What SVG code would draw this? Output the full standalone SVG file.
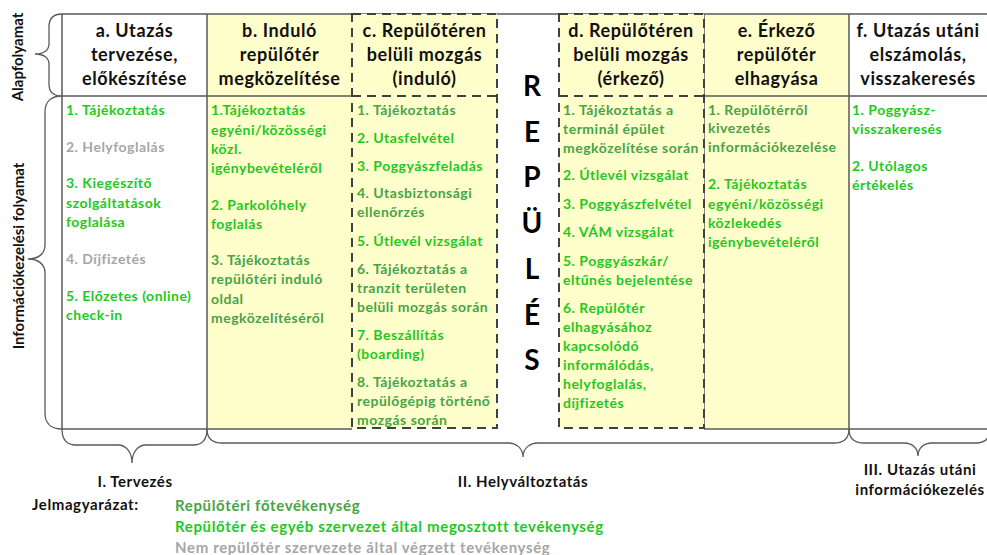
<svg xmlns="http://www.w3.org/2000/svg" width="987" height="555" viewBox="0 0 987 555">
<style>
text{font-family:Lato,"Liberation Sans",sans-serif;font-weight:bold}
.hd{font-size:18px;fill:#111;text-anchor:middle;letter-spacing:0.6px}
.b{font-size:14px;letter-spacing:0.5px}
.frame{fill:none;stroke:#5a5a5a;stroke-width:1.5}
.dash{fill:none;stroke:#404040;stroke-width:2;stroke-dasharray:9 6}
.brace{fill:none;stroke:#5a5a5a;stroke-width:1.3}
.lbl{font-size:15px;fill:#111}
.lg{font-size:15px;letter-spacing:0.65px}
.big{font-size:28px;fill:#000;text-anchor:middle}
.sec{font-size:15px;fill:#111;text-anchor:middle;letter-spacing:0.55px}
.g1{fill:#1ec81e}
.g2{fill:#46a446}
.gr{fill:#a6a6a6}
</style>
<rect width="987" height="555" fill="#fff"/>

<g id="col-a">
<rect x="62" y="14" width="145" height="415" fill="#fff"/>
<text class="hd" x="134.5" y="37">a. Utazás</text>
<text class="hd" x="134.5" y="61">tervezése,</text>
<text class="hd" x="134.5" y="85">előkészítése</text>
<text class="b g1" x="66" y="115">1. Tájékoztatás</text>
<text class="b gr" x="66" y="152">2. Helyfoglalás</text>
<text class="b g1" x="66" y="188">3. Kiegészítő</text>
<text class="b g1" x="66" y="207.5">szolgáltatások</text>
<text class="b g1" x="66" y="227">foglalása</text>
<text class="b gr" x="66" y="264">4. Díjfizetés</text>
<text class="b g1" x="66" y="300.5">5. Előzetes (online)</text>
<text class="b g1" x="66" y="319.5">check-in</text>
</g>

<g id="col-b">
<rect x="207" y="14" width="145" height="415" fill="#ffffcc"/>
<text class="hd" x="279.5" y="37">b. Induló</text>
<text class="hd" x="279.5" y="61">repülőtér</text>
<text class="hd" x="279.5" y="85">megközelítése</text>
<text class="b g1" x="211" y="115">1.Tájékoztatás</text>
<text class="b g1" x="211" y="134.5">egyéni/közösségi</text>
<text class="b g1" x="211" y="154">közl.</text>
<text class="b g1" x="211" y="173">igénybevételéről</text>
<text class="b g1" x="211" y="210">2. Parkolóhely</text>
<text class="b g1" x="211" y="228.5">foglalás</text>
<text class="b g2" x="211" y="265">3. Tájékoztatás</text>
<text class="b g2" x="211" y="284">repülőtéri induló</text>
<text class="b g2" x="211" y="304">oldal</text>
<text class="b g2" x="211" y="323">megközelítéséről</text>
</g>

<g id="col-e">
<rect x="704" y="14" width="145" height="415" fill="#ffffcc"/>
<text class="hd" x="776.5" y="37">e. Érkező</text>
<text class="hd" x="776.5" y="61">repülőtér</text>
<text class="hd" x="776.5" y="85">elhagyása</text>
<text class="b g2" x="708" y="114.5">1. Repülőtérről</text>
<text class="b g2" x="708" y="133">kivezetés</text>
<text class="b g2" x="708" y="152">információkezelése</text>
<text class="b g1" x="708" y="189">2. Tájékoztatás</text>
<text class="b g1" x="708" y="209">egyéni/közösségi</text>
<text class="b g1" x="708" y="228">közlekedés</text>
<text class="b g1" x="708" y="247">igénybevételéről</text>
</g>

<g id="col-f">
<text class="hd" x="918" y="37">f. Utazás utáni</text>
<text class="hd" x="918" y="61">elszámolás,</text>
<text class="hd" x="918" y="85">visszakeresés</text>
<text class="b g1" x="852" y="115">1. Poggyász-</text>
<text class="b g1" x="852" y="133.5">visszakeresés</text>
<text class="b g1" x="852" y="171">2. Utólagos</text>
<text class="b g1" x="852" y="189.5">értékelés</text>
</g>

<g id="frame">
<path class="frame" d="M62,14 H990 M62,96 H352 M704,96 H990 M62,429 H352 M704,429 H990 M62,14 V429 M207,14 V429 M704,14 V429 M849,14 V429"/>
</g>

<g id="col-c">
<rect x="352" y="14" width="145" height="414" fill="#ffffcc"/>
<rect class="dash" x="352" y="14" width="145" height="414"/>
<path class="dash" d="M352,96 H497"/>
<text class="hd" x="424.5" y="37">c. Repülőtéren</text>
<text class="hd" x="424.5" y="61">belüli mozgás</text>
<text class="hd" x="424.5" y="85">(induló)</text>
<text class="b g2" x="357" y="115">1. Tájékoztatás</text>
<text class="b g1" x="357" y="143">2. Utasfelvétel</text>
<text class="b g1" x="357" y="171">3. Poggyászfeladás</text>
<text class="b g2" x="357" y="198">4. Utasbiztonsági</text>
<text class="b g2" x="357" y="217">ellenőrzés</text>
<text class="b g1" x="357" y="246">5. Útlevél vizsgálat</text>
<text class="b g2" x="357" y="274">6. Tájékoztatás a</text>
<text class="b g2" x="357" y="293">tranzit területen</text>
<text class="b g2" x="357" y="312">belüli mozgás során</text>
<text class="b g1" x="357" y="340">7. Beszállítás</text>
<text class="b g1" x="357" y="359">(boarding)</text>
<text class="b g2" x="357" y="387">8. Tájékoztatás a</text>
<text class="b g2" x="357" y="406">repülőgépig történő</text>
<text class="b g2" x="357" y="425">mozgás során</text>
</g>

<g id="col-d">
<rect x="559" y="14" width="145" height="414" fill="#ffffcc"/>
<rect class="dash" x="559" y="14" width="145" height="414"/>
<path class="dash" d="M559,96 H704"/>
<text class="hd" x="631" y="37">d. Repülőtéren</text>
<text class="hd" x="631" y="61">belüli mozgás</text>
<text class="hd" x="631" y="85">(érkező)</text>
<text class="b g2" x="563" y="115">1. Tájékoztatás a</text>
<text class="b g2" x="563" y="134">terminál épület</text>
<text class="b g2" x="563" y="153">megközelítése során</text>
<text class="b g1" x="563" y="180">2. Útlevél vizsgálat</text>
<text class="b g1" x="563" y="209">3. Poggyászfelvétel</text>
<text class="b g1" x="563" y="237">4. VÁM vizsgálat</text>
<text class="b g1" x="563" y="266">5. Poggyászkár/</text>
<text class="b g1" x="563" y="285">eltűnés bejelentése</text>
<text class="b g1" x="563" y="313">6. Repülőtér</text>
<text class="b g1" x="563" y="332">elhagyásához</text>
<text class="b g1" x="563" y="351">kapcsolódó</text>
<text class="b g1" x="563" y="370">informálódás,</text>
<text class="b g1" x="563" y="389">helyfoglalás,</text>
<text class="b g1" x="563" y="408">díjfizetés</text>
</g>

<g id="repules">
<text class="big" x="532" y="96">R</text>
<text class="big" x="532" y="141.7">E</text>
<text class="big" x="532" y="187.4">P</text>
<text class="big" x="532" y="233.1">Ü</text>
<text class="big" x="532" y="278.8">L</text>
<text class="big" x="532" y="324.5">É</text>
<text class="big" x="532" y="370.2">S</text>
</g>

<g id="braces">
<path class="brace" d="M62,14 C53,14 49,19 49,27 L49,44 C49,50 44,54 35,54 C44,54 49,58 49,64 L49,84 C49,91 53,96 62,96"/>
<path class="brace" d="M62,96 C51,96 45,102 45,112 L45,245 C45,254 38,259 28,259 C38,259 45,264 45,273 L45,413 C45,423 51,429 62,429"/>
<path class="brace" d="M62,429 C62,439 66,445 76,445 L118,445 C126,445 132,452 132,463 C132,452 138,445 146,445 L193,445 C203,445 207,439 207,429"/>
<path class="brace" d="M207,429 C207,438 212,443 222,443 L508,443 C516,443 523,448 523,457 C523,448 530,443 538,443 L834,443 C844,443 849,438 849,429"/>
<path class="brace" d="M849,429 C849,438 854,443 864,443 L904,443 C912,443 918,448 918,456 C918,448 924,443 932,443 L976,443 C985,443 990,438 990,429"/>
</g>

<g id="labels">
<text class="lbl" transform="translate(23,57) rotate(-90)" text-anchor="middle">Alapfolyamat</text>
<text class="lbl" transform="translate(24,256) rotate(-90)" text-anchor="middle">Információkezelési folyamat</text>
<text class="sec" x="135" y="487">I. Tervezés</text>
<text class="sec" x="523" y="487">II. Helyváltoztatás</text>
<text class="sec" x="920" y="475">III. Utazás utáni</text>
<text class="sec" x="920" y="495">információkezelés</text>
</g>

<g id="legend">
<text class="lbl" x="32" y="510" style="letter-spacing:0.6px">Jelmagyarázat:</text>
<text class="lg g2" x="175" y="511">Repülőtéri főtevékenység</text>
<text class="lg g1" x="175" y="532">Repülőtér és egyéb szervezet által megosztott tevékenység</text>
<text class="lg gr" x="175" y="553">Nem repülőtér szervezete által végzett tevékenység</text>
</g>
</svg>
